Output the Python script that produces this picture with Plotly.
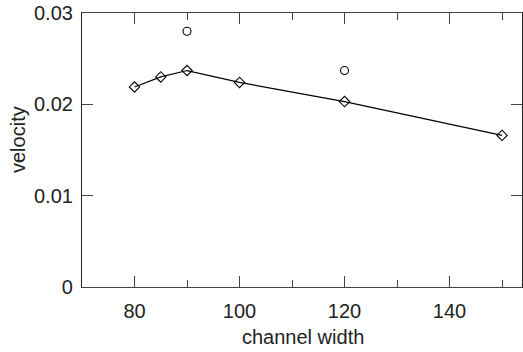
import plotly.graph_objects as go

width_line = [80, 85, 90, 100, 120, 150]
velocity_line = [0.0219, 0.0230, 0.0237, 0.0224, 0.0203, 0.0166]
width_pts = [90, 120]
velocity_pts = [0.0280, 0.0237]
x_ticks = [80, 100, 120, 140]
y_ticks = [0, 0.01, 0.02, 0.03]
y_labels = ["0", "0.01", "0.02", "0.03"]

FONT = "Liberation Sans, Arial, Helvetica, sans-serif"
FS = 20

plot_l, plot_r, plot_t, plot_b = 82, 522, 13, 287
def px_to_paper_x(px):
    return (px - plot_l) / (plot_r - plot_l)
def px_to_paper_y(py):
    return (plot_b - py) / (plot_b - plot_t)

fig = go.Figure()
fig.add_trace(go.Scatter(
    x=width_line, y=velocity_line, mode="lines+markers",
    line=dict(color="black", width=1.2),
    marker=dict(symbol="diamond-open", size=8, color="black", line=dict(width=1.1)),
    showlegend=False, cliponaxis=False))
fig.add_trace(go.Scatter(
    x=width_pts, y=velocity_pts, mode="markers",
    marker=dict(symbol="circle-open", size=8, color="black", line=dict(width=1.1)),
    showlegend=False, cliponaxis=False))

fig.update_layout(
    width=523, height=352,
    margin=dict(l=plot_l, r=523 - plot_r, t=plot_t, b=352 - plot_b, autoexpand=False),
    paper_bgcolor="white", plot_bgcolor="white",
    font=dict(family=FONT, size=FS, color="#222"),
    xaxis=dict(range=[70, 153.8], tickvals=x_ticks, ticks="inside", ticklen=11,
               tickcolor="#444", tickwidth=1.2, showgrid=False, zeroline=False,
               showline=True, linecolor="#444", linewidth=1.2, mirror="ticks",
               ticklabelstandoff=6, automargin=False,
               minor=dict(tickvals=[90, 110, 130, 150], ticks="inside", ticklen=7,
                          tickcolor="#444", showgrid=False)),
    yaxis=dict(range=[0, 0.03], tickvals=y_ticks, ticktext=y_labels, ticks="inside",
               ticklen=11, tickcolor="#444", tickwidth=1.2, showgrid=False,
               zeroline=False, showline=True, linecolor="#222", linewidth=1.2,
               mirror="ticks", ticklabelstandoff=4, automargin=False),
    annotations=[
        dict(text="channel width", x=px_to_paper_x(303), xref="paper",
             y=px_to_paper_y(337), yref="paper",
             showarrow=False, font=dict(size=FS), xanchor="center", yanchor="middle"),
        dict(text="velocity", x=px_to_paper_x(18), xref="paper",
             y=px_to_paper_y(140), yref="paper", showarrow=False, textangle=-90,
             font=dict(size=FS), xanchor="center", yanchor="middle"),
    ],
)

fig.write_html("out.html", config={"displayModeBar": False},
               post_script="document.body.style.margin='0';document.body.style.overflow='hidden';")
